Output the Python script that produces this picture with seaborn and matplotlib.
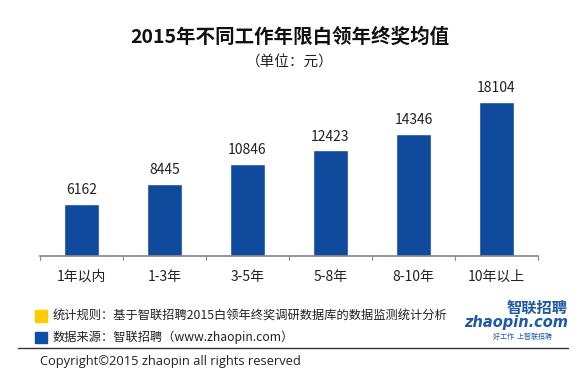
import matplotlib
matplotlib.use("Agg")
import matplotlib.pyplot as plt
import seaborn as sns
import pandas as pd
from matplotlib.patches import Rectangle

categories = ["1年以内", "1-3年", "3-5年", "5-8年", "8-10年", "10年以上"]
bonus = [6162, 8445, 10846, 12423, 14346, 18104]

title = "2015年不同工作年限白领年终奖均值"
unit = "（单位：元）"
note_rule = "统计规则：基于智联招聘2015白领年终奖调研数据库的数据监测统计分析"
note_source = "数据来源：智联招聘（www.zhaopin.com）"
copyright_text = "Copyright©2015 zhaopin all rights reserved"

df = pd.DataFrame({"years": categories, "bonus": bonus})

sns.set_theme(style="white")
plt.rcParams["font.family"] = ["Noto Sans CJK SC", "DejaVu Sans"]

fig = plt.figure(figsize=(5.8, 3.7), dpi=100)
W, H = 580, 370
ax = fig.add_axes([40 / W, 1 - 256 / H, 498 / W, 170 / H])

bar_color = "#0F4A9C"
sns.barplot(data=df, x="years", y="bonus", color=bar_color, width=0.41,
            saturation=1, ax=ax)
ax.set_xlim(-0.5, len(categories) - 0.5)
ax.set_ylim(0, 20000)

for i, v in enumerate(bonus):
    ax.text(i, v + 800, str(v), ha="center", va="bottom", fontsize=10, color="#222222")

# axis styling
for side in ["top", "right", "left"]:
    ax.spines[side].set_visible(False)
ax.spines["bottom"].set_color("#888888")
ax.set_yticks([])
ax.set_xlabel("")
ax.set_ylabel("")
ax.set_xticks(range(len(categories)))
ax.set_xticklabels(categories, fontsize=10, color="#222222")
ax.tick_params(axis="x", length=0, pad=10)
for b in [i - 0.5 for i in range(len(categories) + 1)]:
    ax.plot([b, b], [0, -500], color="#888888", lw=0.8, clip_on=False)

fig.text(0.5, 1 - 37 / H, title, ha="center", va="center", fontsize=14,
         fontweight="bold", color="#111111")
fig.text(0.5, 1 - 63 / H, unit, ha="center", va="center", fontsize=10.5, color="#222222")

# footer notes
fig.patches.append(Rectangle((35 / W, 1 - 322 / H), 12 / W, 12 / H,
                             transform=fig.transFigure, color="#FFCC00"))
fig.patches.append(Rectangle((35 / W, 1 - 343 / H), 12 / W, 11 / H,
                             transform=fig.transFigure, color="#0B4FA8"))
fig.text(53 / W, 1 - 316 / H, note_rule, ha="left", va="center", fontsize=8.8, color="#222222")
fig.text(53 / W, 1 - 337 / H, note_source, ha="left", va="center", fontsize=8.8, color="#222222")

# logo
fig.text(568 / W, 1 - 308 / H, "智联招聘", ha="right", va="center", fontsize=11,
         fontweight="bold", fontstyle="italic", color="#1F5AA8")
fig.text(568 / W, 1 - 323 / H, "zhaopin.com", ha="right", va="center", fontsize=10.5,
         fontweight="bold", fontstyle="italic", color="#1F5AA8", family=["DejaVu Sans"])
fig.text(552 / W, 1 - 337 / H, "好工作  上智联招聘", ha="right", va="center", fontsize=5,
         fontstyle="italic", color="#1F5AA8")

fig.add_artist(plt.Line2D([18 / W, 568 / W], [1 - 348 / H, 1 - 348 / H],
                          transform=fig.transFigure, color="#333333", lw=1))
fig.text(40 / W, 1 - 361 / H, copyright_text, ha="left", va="center", fontsize=9.3,
         color="#222222", family=["Open Sans", "DejaVu Sans"])

fig.savefig("out.png", dpi=100, facecolor="white")
